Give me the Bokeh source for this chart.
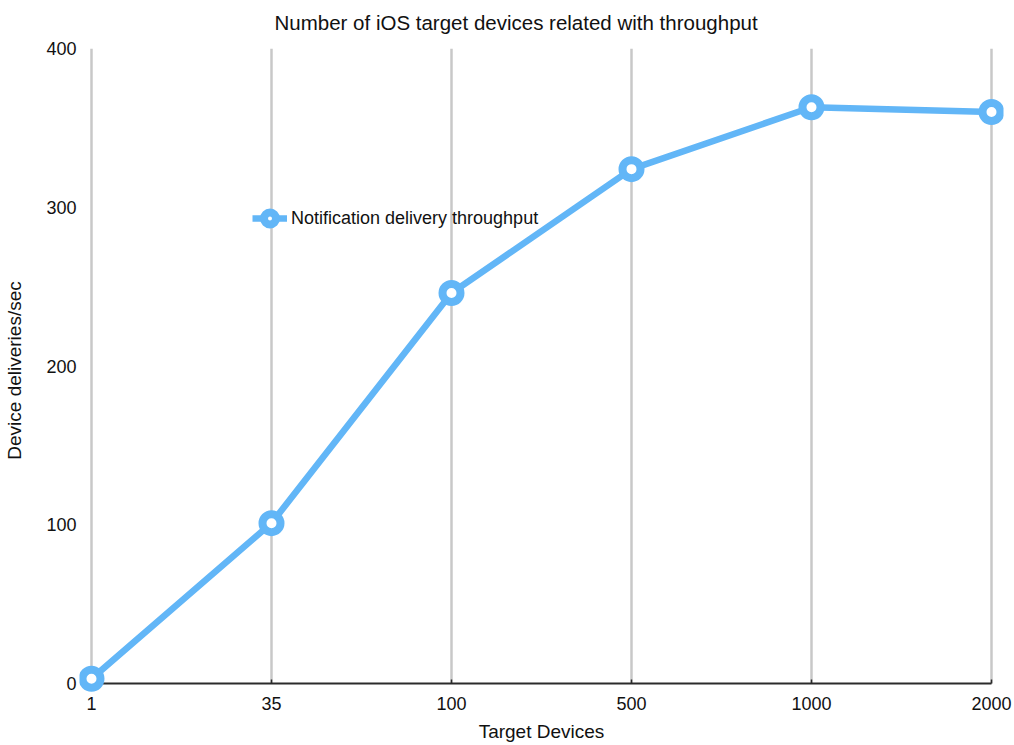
from bokeh.plotting import figure
from bokeh.models import (Range1d, FixedTicker, LinearAxis, Legend, LegendItem,
                          ColumnDataSource, Title)
from bokeh.embed import file_html
from bokeh.resources import INLINE

# Chart data
target_devices = ["1", "35", "100", "500", "1000", "2000"]
throughput = [3, 101, 246, 324, 363, 360]
y_ticks = [0, 100, 200, 300, 400]

TITLE = "Number of iOS target devices related with throughput"
X_LABEL = "Target Devices"
Y_LABEL = "Device deliveries/sec"

FONT = "Liberation Sans"
LINE_COLOR = "#62b6f7"
GRID_COLOR = "#c8c8c8"
TEXT_COLOR = "#111111"

xs = list(range(len(target_devices)))
x_pad = 12 / 180.0          # room for the end markers (in category units)
y_pad = 9 / 1.5875          # room below zero for the first marker

p = figure(
    width=1014, height=745,
    output_backend="svg", toolbar_location=None,
    x_range=Range1d(-x_pad, xs[-1] + x_pad),
    y_range=Range1d(-y_pad, y_ticks[-1]),
    x_axis_location=None, y_axis_location=None,
    min_border_left=79, min_border_right=11,
    min_border_top=48, min_border_bottom=53,
    title=TITLE,
)
p.outline_line_color = None
p.xgrid.visible = False
p.ygrid.visible = False
p.background_fill_color = "white"
p.border_fill_color = "white"

p.title.text_font = FONT
p.title.text_font_size = "20.5px"
p.title.text_font_style = "normal"
p.title.text_color = TEXT_COLOR
p.title.align = "left"
p.title.offset = 195
p.title.standoff = 6

# thin blank strip between the title and the plotting area
p.add_layout(Title(text=" ", text_font_size="9px", standoff=0), "above")

# Vertical guide lines at each category
p.segment(x0=xs, y0=[y_ticks[0]] * len(xs), x1=xs, y1=[y_ticks[-1]] * len(xs),
          line_color=GRID_COLOR, line_width=2.5)

# Baseline with small upward ticks
p.segment(x0=xs[0], y0=0, x1=xs[-1], y1=0, line_color="#2b2b2b", line_width=2)
p.segment(x0=xs, y0=[0] * len(xs), x1=xs, y1=[2.5] * len(xs),
          line_color="#2b2b2b", line_width=1.5)

# Axes: labels only
xaxis = LinearAxis(
    ticker=FixedTicker(ticks=xs),
    major_label_overrides={i: t for i, t in zip(xs, target_devices)},
    axis_label=X_LABEL,
)
yaxis = LinearAxis(ticker=FixedTicker(ticks=y_ticks), axis_label=Y_LABEL)
for ax in (xaxis, yaxis):
    ax.axis_line_color = None
    ax.major_tick_line_color = None
    ax.minor_tick_line_color = None
    ax.major_tick_in = 0
    ax.major_tick_out = 0
    ax.minor_tick_in = 0
    ax.minor_tick_out = 0
    ax.major_label_text_font = FONT
    ax.major_label_text_font_size = "18px"
    ax.major_label_text_color = TEXT_COLOR
    ax.axis_label_text_font = FONT
    ax.axis_label_text_font_size = "19px"
    ax.axis_label_text_font_style = "normal"
    ax.axis_label_text_color = TEXT_COLOR
xaxis.major_label_standoff = 4
xaxis.axis_label_standoff = 8
yaxis.major_label_standoff = 3
yaxis.axis_label_standoff = 18
p.add_layout(xaxis, "below")
p.add_layout(yaxis, "left")

src = ColumnDataSource(dict(x=xs, y=throughput))
line = p.line("x", "y", source=src, line_color=LINE_COLOR, line_width=6.5)
dots = p.scatter("x", "y", source=src, marker="circle", size=18,
                 fill_color="white", line_color=LINE_COLOR, line_width=8)

legend = Legend(
    items=[LegendItem(label="Notification delivery throughput", renderers=[line, dots])],
    location=(173, 459),
    border_line_color=None, background_fill_alpha=0,
    padding=0, margin=0, spacing=0,
    glyph_width=35, glyph_height=30, label_height=30, label_standoff=4,
    label_text_font=FONT, label_text_font_size="18px", label_text_color=TEXT_COLOR,
)
p.add_layout(legend, "center")

open("out.html", "w").write(file_html(p, INLINE))
